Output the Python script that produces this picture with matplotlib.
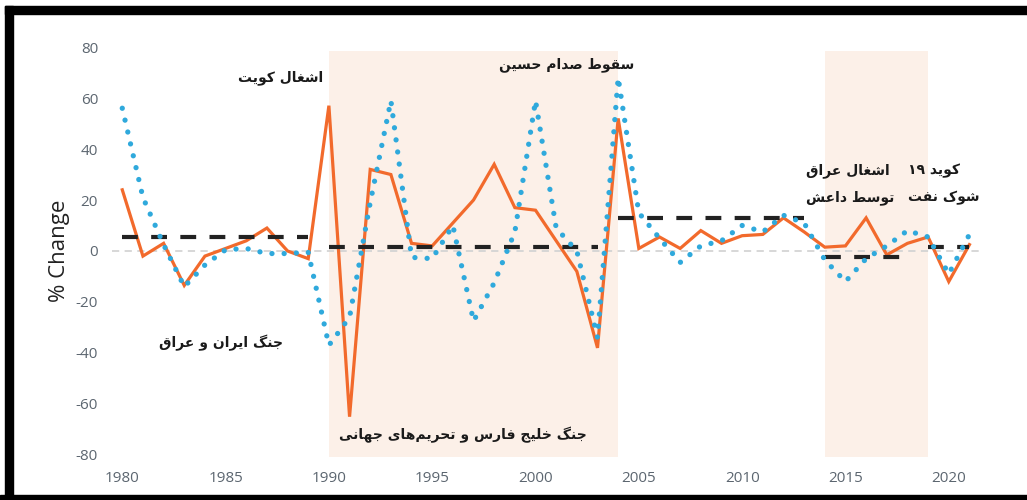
import re
import matplotlib
import matplotlib.pyplot as plt
from matplotlib.patches import Rectangle

matplotlib.use('Agg')
plt.rcParams['axes.unicode_minus'] = False

# --- data ---
years = list(range(1980, 2022))
orange_vals = [24, -2, 3, -13.5, -2, 1, 4, 9, 0, -3,
               57, -65, 32, 30, 3, 2, 11, 20, 34, 17,
               16, 4, -8, -38, 52, 1, 5.5, 1, 8, 3,
               6, 6.5, 13, 7.5, 1.5, 2, 13, -1.5, 3, 5.5,
               -12, 2.5]
blue_vals = [56, 21, 2.5, -14, -5.5, 0.5, 1, -1, -1, -0.5,
             -37, -26, 19, 59, -2.5, -3, 10, -27.5, -12.5, 7.5,
             59, 9, 0, -34, 68, 15, 5, -4.5, 2, 4,
             10, 7.5, 14, 11, -3.5, -12, -3, 2, 8, 5.5,
             -9, 6.5]
avg_start = [1980, 1990, 2004, 2014, 2019]
avg_end = [1989, 2003, 2013, 2018, 2021]
avg_vals = [5.5, 1.6, 13, -2.4, 1.6]
shade_spans = [(1990, 2004), (2014, 2019)]
y_ticks = [80, 60, 40, 20, 0, -20, -40, -60, -80]
x_ticks = [1980, 1985, 1990, 1995, 2000, 2005, 2010, 2015, 2020]

# (text, x, y, ha)
notes = [
    ('اشغال کویت', 1987.65, 68, 'center'),
    ('سقوط صدام حسین', 2001.5, 73, 'center'),
    ('اشغال عراق', 2013.1, 31.5, 'left'),
    ('توسط داعش', 2013.1, 21, 'left'),
    ('کوید ۱۹', 2018.05, 31.5, 'left'),
    ('شوک نفت', 2018.05, 21, 'left'),
    ('جنگ ایران و عراق', 1984.8, -36, 'center'),
    ('جنگ خلیج فارس و تحریم‌های جهانی', 1996.5, -72, 'center'),
]

# --- minimal Persian shaping (matplotlib has no complex text layout) ---
# isolated, final, initial, medial
FORMS = {
    'ا': ('\uFE8D', '\uFE8E', None, None),
    'ت': ('\uFE95', '\uFE96', '\uFE97', '\uFE98'),
    'ج': ('\uFE9D', '\uFE9E', '\uFE9F', '\uFEA0'),
    'ح': ('\uFEA1', '\uFEA2', '\uFEA3', '\uFEA4'),
    'خ': ('\uFEA5', '\uFEA6', '\uFEA7', '\uFEA8'),
    'د': ('\uFEA9', '\uFEAA', None, None),
    'ر': ('\uFEAD', '\uFEAE', None, None),
    'س': ('\uFEB1', '\uFEB2', '\uFEB3', '\uFEB4'),
    'ش': ('\uFEB5', '\uFEB6', '\uFEB7', '\uFEB8'),
    'ص': ('\uFEB9', '\uFEBA', '\uFEBB', '\uFEBC'),
    'ط': ('\uFEC1', '\uFEC2', '\uFEC3', '\uFEC4'),
    'ع': ('\uFEC9', '\uFECA', '\uFECB', '\uFECC'),
    'غ': ('\uFECD', '\uFECE', '\uFECF', '\uFED0'),
    'ف': ('\uFED1', '\uFED2', '\uFED3', '\uFED4'),
    'ق': ('\uFED5', '\uFED6', '\uFED7', '\uFED8'),
    'ل': ('\uFEDD', '\uFEDE', '\uFEDF', '\uFEE0'),
    'م': ('\uFEE1', '\uFEE2', '\uFEE3', '\uFEE4'),
    'ن': ('\uFEE5', '\uFEE6', '\uFEE7', '\uFEE8'),
    'ه': ('\uFEE9', '\uFEEA', '\uFEEB', '\uFEEC'),
    'و': ('\uFEED', '\uFEEE', None, None),
    'ک': ('\uFB8E', '\uFB8F', '\uFB90', '\uFB91'),
    'گ': ('\uFB92', '\uFB93', '\uFB94', '\uFB95'),
    'ی': ('\uFBFC', '\uFBFD', '\uFBFE', '\uFBFF'),
}


def shape_fa(s):
    out = []
    for i, ch in enumerate(s):
        if ch not in FORMS:
            if ch != '\u200c':
                out.append(ch)
            continue
        prev = s[i - 1] if i > 0 else ''
        nxt = s[i + 1] if i + 1 < len(s) else ''
        join_prev = prev in FORMS and FORMS[prev][2] is not None
        join_next = FORMS[ch][2] is not None and nxt in FORMS
        iso, fin, ini, med = FORMS[ch]
        if join_prev and join_next:
            out.append(med)
        elif join_prev:
            out.append(fin)
        elif join_next:
            out.append(ini)
        else:
            out.append(iso)
    vis = ''.join(out)[::-1]
    # digits keep left-to-right order
    return re.sub(r'[0-9\u06F0-\u06F9]+', lambda m: m.group(0)[::-1], vis)


fig = plt.figure(figsize=(10.27, 5.0), dpi=100)
ax = fig.add_axes([0.109, 0.085, 0.845, 0.826])

ax.set_xlim(1979.5, 2021.5)
ax.set_ylim(-81, 81)

for a, b in shade_spans:
    ax.fill_between([a, b], -80.8, 78.4, color='#fcf0e8', lw=0, zorder=0)

ax.axhline(0, color='#d4d4d4', lw=1.3, ls=(0, (4, 3)), zorder=1)

ax.plot(years, orange_vals, color='#f26a2c', lw=2.3, solid_joinstyle='miter', zorder=3)
ax.plot(years, blue_vals, color='#2fa9dc', lw=3.8, ls=(0, (0.01, 2.3)),
        dash_capstyle='round', zorder=5)
for a, b, v in zip(avg_start, avg_end, avg_vals):
    ax.plot([a, b], [v, v], color='#222222', lw=3.0, ls=(0, (3.8, 3.2)), zorder=4)

for txt, x, y, ha in notes:
    ax.text(x, y, shape_fa(txt), ha=ha, va='center', fontsize=10,
            fontweight='bold', family=['DejaVu Sans'], color='#1a1a1a', zorder=6)

ax.set_xticks(x_ticks)
ax.set_yticks(y_ticks)
ax.tick_params(length=0, labelsize=11, labelcolor='#5c6670', pad=10)
for lab in ax.get_xticklabels() + ax.get_yticklabels():
    lab.set_family('Open Sans')
ax.set_ylabel('% Change', fontsize=16, family='Open Sans', color='#222222', labelpad=4)
for sp in ax.spines.values():
    sp.set_visible(False)

# black frame around the picture (open on the right)
k = 'black'
fig.add_artist(Rectangle((0.005, 0.972), 1.0, 0.016, transform=fig.transFigure, color=k))
fig.add_artist(Rectangle((0.005, 0.0), 0.008, 0.988, transform=fig.transFigure, color=k))
fig.add_artist(Rectangle((0.0, 0.0), 1.0, 0.011, transform=fig.transFigure, color=k))

fig.savefig('out.png', dpi=100)
plt.close(fig)
